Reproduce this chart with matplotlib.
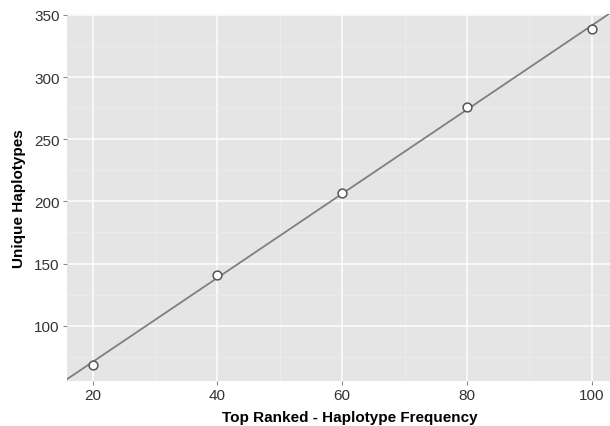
import matplotlib
matplotlib.use("Agg")
import matplotlib.pyplot as plt
import matplotlib.ticker as ticker
import numpy as np

# Data
top_ranked = [20, 40, 60, 80, 100]
unique_haplotypes = [68, 141, 207, 276, 339]

x_ticks = [20, 40, 60, 80, 100]
y_ticks = [100, 150, 200, 250, 300, 350]

PANEL_BG = "#e5e5e5"
LINE_COLOR = "#7f7f7f"

plt.rcParams["font.family"] = ["Liberation Sans", "DejaVu Sans"]

fig = plt.figure(figsize=(6.1, 4.27), dpi=100)
ax = fig.add_axes([0.1098, 0.106, 0.8902, 0.859])
ax.set_facecolor(PANEL_BG)

xlim = (15.9, 102.9)
ylim = (55.7, 350.8)
ax.set_xlim(*xlim)
ax.set_ylim(*ylim)

# linear fit drawn across the full panel width
slope, intercept = np.polyfit(top_ranked, unique_haplotypes, 1)
xs = np.array(xlim)
ax.plot(xs, slope * xs + intercept, color=LINE_COLOR, linewidth=1.3, zorder=3)

ax.scatter(top_ranked, unique_haplotypes, s=40, facecolor="white",
           edgecolor="#555555", linewidth=1.1, zorder=4)

# ggplot-like grid
ax.xaxis.set_major_locator(ticker.FixedLocator(x_ticks))
ax.yaxis.set_major_locator(ticker.FixedLocator(y_ticks))
ax.xaxis.set_minor_locator(ticker.MultipleLocator(10))
ax.yaxis.set_minor_locator(ticker.FixedLocator([75, 125, 175, 225, 275, 325]))
ax.grid(which="major", color="white", linewidth=1.1)
ax.grid(which="minor", color="#efefef", linewidth=0.5)
ax.set_axisbelow(True)

for side in ["top", "right", "bottom", "left"]:
    ax.spines[side].set_visible(False)

ax.tick_params(which="major", length=3, width=0.8, color="#8a8a8a",
               labelsize=11, labelcolor="#333333", pad=2.2)
ax.tick_params(which="minor", length=0)

ax.set_xlabel("Top Ranked - Haplotype Frequency", fontsize=11,
              fontweight="bold", labelpad=5.5)
ax.xaxis.label.set_x(0.521)
ax.set_ylabel("Unique Haplotypes", fontsize=11, fontweight="bold",
              labelpad=6)

fig.savefig("out.png", dpi=100)
